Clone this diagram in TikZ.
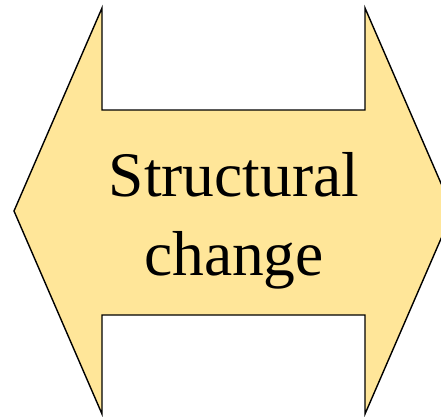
\documentclass[tikz,border=0pt]{standalone}
\usepackage{fontspec}
\setmainfont{Liberation Serif}
\definecolor{arrowfill}{HTML}{FFE699}
\begin{document}
\begin{tikzpicture}[x=1pt,y=1pt,
  arrowshape/.style={fill=arrowfill,draw=black,line width=1.4pt,line join=miter},
  label/.style={font=\fontsize{63.5}{79}\selectfont,align=center,inner sep=0pt}]
\useasboundingbox (0,0) rectangle (441,416);
\draw[arrowshape] (14,205) -- (102,408) -- (102,306) -- (365,306) -- (365,408)
  -- (453,205) -- (365,2) -- (365,101) -- (102,101) -- (102,2) -- cycle;
\node[label] (t) at (234,195) {Structural\\change};
\end{tikzpicture}
\end{document}
